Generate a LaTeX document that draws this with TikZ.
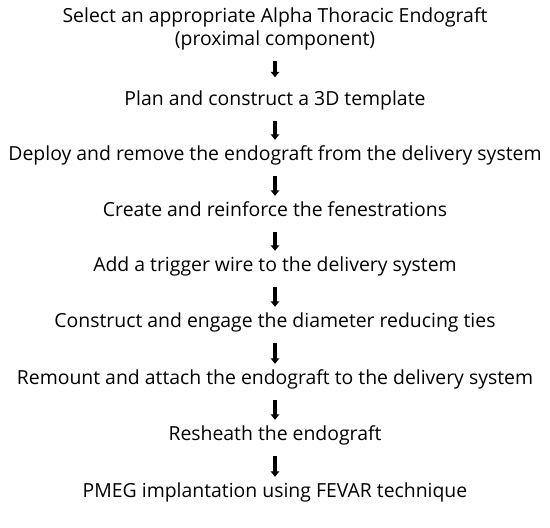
\documentclass[tikz,border=0pt]{standalone}
\usepackage{fontspec}
\setmainfont{Open Sans}
\usepackage{tikz}
\usetikzlibrary{arrows.meta}

\begin{document}
\begin{tikzpicture}[x=1pt, y=-1pt,
  stage/.style={inner sep=0pt, text height=13pt, text depth=4pt, font=\fontsize{19.4}{23}\selectfont},
  flow/.style={line width=3.2pt, -{Triangle[width=8.5pt, length=5.5pt]}, shorten <=11pt, shorten >=7.5pt}]
  \useasboundingbox (0, 0) rectangle (550, 528);

  % Steps
  \node [inner sep=0pt, align=center, font=\fontsize{19.4}{23}\selectfont] (select) at (275, 28.6) {Select an appropriate Alpha Thoracic Endograft\\(proximal component)};
  \node [stage] (plan) at (275, 101) {Plan and construct a 3D template};
  \node [stage] (deploy) at (275, 156) {Deploy and remove the endograft from the delivery system};
  \node [stage] (create) at (275, 212) {Create and reinforce the fenestrations};
  \node [stage] (trigger) at (275, 267) {Add a trigger wire to the delivery system};
  \node [stage] (ties) at (275, 323) {Construct and engage the diameter reducing ties};
  \node [stage] (remount) at (275, 380) {Remount and attach the endograft to the delivery system};
  \node [stage] (resheath) at (275, 436) {Resheath the endograft};
  \node [stage] (pmeg) at (275, 493) {PMEG implantation using FEVAR technique};

  % Arrows
  \draw [flow, shorten >=15pt] (select) -- (plan);
  \draw [flow] (plan) -- (deploy);
  \draw [flow] (deploy) -- (create);
  \draw [flow] (create) -- (trigger);
  \draw [flow] (trigger) -- (ties);
  \draw [flow] (ties) -- (remount);
  \draw [flow] (remount) -- (resheath);
  \draw [flow] (resheath) -- (pmeg);

\end{tikzpicture}
\end{document}
